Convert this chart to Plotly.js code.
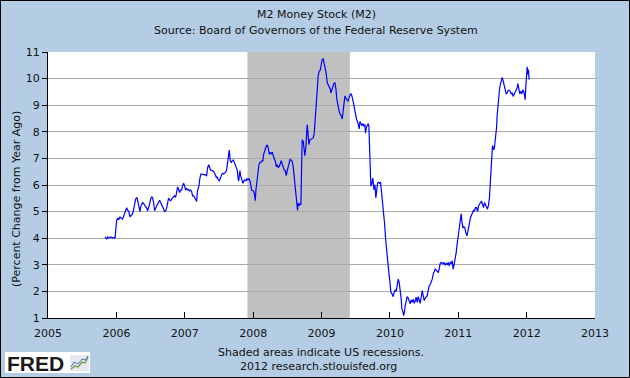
<!DOCTYPE html>
<html>
<head>
<meta charset="utf-8">
<script src="https://cdn.plot.ly/plotly-3.0.1.min.js"></script>
<style>
  html, body { margin: 0; padding: 0; background: #b4cde4; }
  #chart { width: 630px; height: 378px; }
</style>
</head>
<body>
<div id="chart"></div>
<script>
// ---- Data (decimal year, percent change from year ago) ----
const dates = [
2005.833,2005.858,2005.872,2005.892,2005.906,2005.926,2005.941,2005.965,2005.980,2005.989,
2006.004,2006.019,2006.038,2006.053,2006.067,2006.087,2006.101,2006.116,2006.136,2006.150,
2006.165,2006.179,2006.199,2006.218,2006.233,2006.248,2006.267,2006.282,2006.301,2006.316,
2006.330,2006.345,2006.355,2006.369,2006.384,2006.399,2006.413,2006.428,2006.443,2006.457,
2006.472,2006.486,2006.501,2006.516,2006.530,2006.545,2006.559,2006.574,2006.589,2006.603,
2006.618,2006.633,2006.647,2006.662,2006.676,2006.691,2006.706,2006.720,2006.735,2006.750,
2006.764,2006.779,2006.793,2006.808,2006.823,2006.837,2006.852,2006.866,2006.881,2006.896,
2006.910,2006.925,2006.940,2006.954,2006.969,2006.983,2006.998,2007.013,2007.027,2007.042,
2007.057,2007.071,2007.086,2007.100,2007.115,2007.130,2007.144,2007.159,2007.174,
2007.183,2007.198,2007.208,2007.222,2007.237,2007.256,2007.271,2007.295,2007.320,2007.334,
2007.349,2007.364,2007.378,2007.403,2007.422,2007.437,2007.451,2007.466,2007.476,2007.490,
2007.505,2007.520,2007.534,2007.549,2007.568,2007.583,2007.597,2007.612,2007.627,2007.641,
2007.651,2007.666,2007.680,2007.695,2007.710,2007.724,2007.739,2007.753,2007.768,2007.778,
2007.788,2007.797,2007.807,2007.817,2007.827,2007.836,2007.851,2007.865,2007.880,2007.895,
2007.909,2007.924,2007.939,2007.953,2007.968,2007.978,2007.992,2008.007,2008.021,2008.031,
2008.041,2008.056,2008.070,2008.085,2008.099,2008.114,2008.129,2008.143,2008.153,2008.168,
2008.182,2008.197,2008.207,2008.221,2008.236,2008.251,2008.265,2008.280,2008.294,2008.309,
2008.324,2008.338,2008.353,2008.367,2008.382,2008.397,2008.411,2008.426,2008.441,2008.455,
2008.470,2008.484,2008.499,2008.514,2008.528,2008.543,2008.558,2008.572,2008.587,2008.601,
2008.616,2008.631,2008.640,2008.650,
2008.655,2008.670,2008.684,2008.699,2008.709,2008.718,2008.733,2008.748,2008.757,2008.772,
2008.782,2008.791,2008.801,2008.816,2008.830,2008.845,2008.860,2008.879,2008.894,2008.904,
2008.913,2008.928,2008.938,2008.952,2008.967,2008.981,2008.996,2009.011,2009.025,2009.040,
2009.055,2009.069,2009.084,2009.098,2009.113,2009.128,2009.137,2009.152,2009.167,2009.181,
2009.196,2009.211,2009.225,2009.240,2009.250,2009.264,2009.279,2009.293,2009.303,2009.313,
2009.327,2009.342,2009.357,2009.371,2009.386,2009.401,2009.415,2009.430,2009.444,2009.459,
2009.469,2009.483,2009.498,2009.513,2009.527,2009.542,2009.552,2009.561,2009.576,2009.591,
2009.605,2009.620,2009.635,2009.644,2009.654,2009.669,2009.683,2009.693,2009.703,2009.712,
2009.722,2009.737,2009.751,2009.766,2009.781,2009.795,2009.805,2009.820,2009.834,2009.849,
2009.864,2009.878,2009.893,2009.907,2009.922,2009.937,2009.951,2009.966,2009.981,2009.995,
2010.010,
2010.015,2010.034,2010.049,2010.063,2010.078,2010.093,2010.107,2010.122,2010.136,2010.151,
2010.166,2010.175,2010.190,2010.200,2010.210,2010.224,2010.239,2010.253,2010.268,2010.283,
2010.297,2010.312,2010.327,2010.341,2010.356,2010.370,2010.385,2010.400,2010.414,2010.429,
2010.443,2010.458,2010.473,2010.487,2010.502,2010.517,2010.531,2010.546,2010.560,2010.575,
2010.590,2010.604,2010.619,2010.634,2010.648,2010.663,2010.677,2010.692,2010.707,2010.721,
2010.736,2010.751,2010.765,2010.780,2010.794,2010.809,2010.824,2010.838,2010.853,2010.867,
2010.882,2010.897,2010.911,2010.926,2010.941,2010.955,2010.970,2010.984,2010.999,2011.014,
2011.028,2011.043,2011.053,2011.067,2011.082,2011.096,2011.111,2011.126,2011.140,2011.155,
2011.170,
2011.179,2011.194,2011.209,2011.223,2011.238,2011.252,2011.267,2011.282,2011.296,2011.311,
2011.326,2011.340,2011.355,2011.369,2011.384,2011.399,2011.413,2011.428,2011.443,2011.457,
2011.467,2011.477,2011.482,2011.491,2011.501,2011.511,2011.520,2011.530,2011.540,2011.550,
2011.560,2011.569,2011.579,2011.589,2011.603,2011.613,2011.628,2011.642,2011.657,2011.672,
2011.686,2011.701,2011.715,2011.730,2011.745,2011.759,2011.774,2011.788,2011.803,2011.818,
2011.832,2011.847,2011.862,2011.871,2011.886,2011.901,2011.915,2011.930,2011.944,2011.959,
2011.969,2011.979,2011.988,2011.998,2012.008,2012.018,2012.027,2012.037
];

const m2Growth = [
4.05,3.96,4.05,4.00,4.03,4.05,4.00,4.03,4.00,4.33,
4.68,4.75,4.72,4.80,4.75,4.72,4.78,4.90,5.05,5.15,
5.05,5.03,4.80,4.84,4.90,5.03,5.34,5.47,5.53,5.34,
5.22,5.00,5.18,5.28,5.34,5.30,5.25,5.18,5.13,5.03,
5.13,5.28,5.47,5.56,5.51,5.34,5.03,5.18,5.22,5.28,
5.38,5.43,5.34,5.28,5.18,5.09,5.00,5.03,5.13,5.34,
5.51,5.43,5.41,5.47,5.53,5.56,5.59,5.53,5.72,5.93,
5.84,5.72,5.81,5.81,5.97,6.07,5.97,5.81,5.88,5.81,
5.83,5.78,5.81,5.76,5.59,5.59,5.53,5.47,5.38,
5.73,5.89,5.98,6.26,6.41,6.41,6.39,6.39,6.35,6.64,
6.76,6.66,6.56,6.54,6.51,6.44,6.35,6.26,6.31,6.19,
6.16,6.26,6.31,6.44,6.41,6.44,6.48,6.56,6.89,7.10,
7.31,6.91,6.85,6.91,6.94,6.85,6.73,6.64,6.56,6.31,
6.14,6.31,6.54,6.35,6.26,6.10,6.06,6.16,6.19,6.16,
6.23,6.19,6.23,6.16,5.98,5.81,5.79,5.76,5.64,5.41,
5.81,6.23,6.56,6.76,6.85,6.85,6.91,6.91,7.14,7.31,
7.39,7.48,7.51,7.39,7.16,7.23,7.16,7.23,7.06,6.98,
6.91,6.69,6.76,6.66,6.69,6.81,6.91,6.79,6.66,6.56,
6.54,6.35,6.54,6.73,6.81,6.98,6.91,6.89,6.66,6.26,
5.98,5.60,5.23,5.04,
5.32,5.22,5.29,5.26,6.70,7.70,7.64,7.35,7.10,7.45,
8.02,8.27,7.98,7.52,7.70,7.73,7.73,7.77,7.95,8.33,
8.93,9.21,9.69,10.11,10.28,10.31,10.53,10.72,10.74,10.56,
10.31,10.19,9.84,9.77,9.71,9.61,9.46,9.61,9.71,9.81,
9.84,9.61,9.21,9.02,8.77,8.71,8.64,8.58,8.48,8.77,
9.15,9.34,9.27,9.21,9.15,9.27,9.34,9.44,9.36,9.23,
9.06,8.86,8.64,8.46,8.39,8.23,8.11,8.39,8.33,8.23,
8.31,8.21,8.27,7.95,8.14,8.23,8.31,8.21,7.08,6.57,
5.95,6.07,6.26,5.82,6.01,5.51,5.76,6.07,6.10,6.07,
6.10,5.76,5.45,5.01,4.57,4.00,3.50,3.06,2.81,2.50,
2.12,
1.96,1.90,1.80,1.96,2.05,2.00,2.21,2.46,2.34,2.09,
1.71,1.34,1.25,1.09,1.18,1.46,1.65,1.80,1.75,1.63,
1.53,1.68,1.59,1.71,1.55,1.63,1.78,1.59,1.80,1.68,
1.55,1.78,2.03,1.84,1.65,1.75,1.78,1.84,2.03,2.21,
2.25,2.34,2.46,2.65,2.78,2.84,2.80,2.75,2.71,2.84,
3.05,3.09,3.05,3.03,3.09,3.00,3.05,3.00,3.09,2.96,
3.09,3.05,3.15,2.84,3.03,3.21,3.46,3.78,4.09,4.40,
4.71,4.93,4.65,4.40,4.43,4.40,4.21,4.09,4.25,4.40,
4.65,
4.77,4.87,4.96,5.05,5.03,5.15,5.15,5.00,5.21,5.30,
5.34,5.40,5.25,5.15,5.34,5.25,5.15,5.09,5.25,5.53,
6.03,6.54,7.02,7.23,7.48,7.42,7.32,7.42,7.64,7.86,
8.15,8.61,9.03,9.43,9.58,9.75,9.91,10.04,9.91,9.71,
9.53,9.43,9.46,9.56,9.56,9.53,9.43,9.46,9.33,9.43,
9.50,9.58,9.66,9.81,9.58,9.43,9.53,9.43,9.58,9.50,
9.37,9.21,9.69,10.06,10.44,10.16,10.34,9.96
];

const recessionStart = [2007.917];
const recessionEnd = [2009.415];
const xTickVals = [2005, 2006, 2007, 2008, 2009, 2010, 2011, 2012, 2013];
const yTickVals = [1, 2, 3, 4, 5, 6, 7, 8, 9, 10, 11];

const titleText = "M2 Money Stock (M2)";
const subtitleText = "Source: Board of Governors of the Federal Reserve System";
const yTitleText = "(Percent Change from Year Ago)";
const noteText = "Shaded areas indicate US recessions.";
const creditText = "2012 research.stlouisfed.org";

// ---- Layout helpers (pixel -> paper) ----
const W = 630, H = 378, L = 48, R = 35, T = 52, B = 60;
const PW = W - L - R, PH = H - T - B;
const px = v => (v - L) / PW;
const py = v => (H - B - v) / PH;

const FONT = "DejaVu Sans";
const txt = { family: FONT, size: 11, color: "#111" };

const shapes = recessionStart.map((s, i) => ({
  type: "rect", xref: "x", yref: "paper", x0: s, x1: recessionEnd[i], y0: 0, y1: 1,
  fillcolor: "#c0c0c0", line: { width: 0 }, layer: "between"
}));
// FRED logo box and icon
shapes.push({ type: "rect", xref: "paper", yref: "paper", x0: px(5), x1: px(90), y0: py(373), y1: py(352),
  fillcolor: "#ffffff", line: { width: 0 }, layer: "above" });
shapes.push({ type: "rect", xref: "paper", yref: "paper", x0: px(70), x1: px(89), y0: py(371), y1: py(355),
  fillcolor: "#e4e9ef", line: { width: 0 }, layer: "above" });
shapes.push({ type: "path", xref: "paper", yref: "paper",
  path: `M ${px(71)} ${py(369)} L ${px(75)} ${py(366)} L ${px(78)} ${py(367)} L ${px(82)} ${py(362)} L ${px(85)} ${py(363)} L ${px(88)} ${py(357)}`,
  line: { color: "#6a9a3a", width: 1.3 }, layer: "above" });
shapes.push({ type: "path", xref: "paper", yref: "paper",
  path: `M ${px(71)} ${py(367)} L ${px(74)} ${py(362)} L ${px(78)} ${py(364)} L ${px(82)} ${py(359)} L ${px(85)} ${py(360)} L ${px(88)} ${py(356)}`,
  line: { color: "#5577bb", width: 1 }, layer: "above" });
// outer border
shapes.push({ type: "rect", xref: "paper", yref: "paper", x0: px(0.5), x1: px(629.5), y0: py(377.5), y1: py(0.5),
  line: { color: "#000", width: 1 }, fillcolor: "rgba(0,0,0,0)", layer: "above" });

const annotations = [
  { text: titleText, x: px(316), y: py(14), xanchor: "center", yanchor: "middle" },
  { text: subtitleText, x: px(316), y: py(30), xanchor: "center", yanchor: "middle" },
  { text: yTitleText, x: px(17), y: py(199), xanchor: "center", yanchor: "middle", textangle: -90 },
  { text: noteText, x: px(321), y: py(352), xanchor: "center", yanchor: "middle" },
  { text: creditText, x: px(318), y: py(366), xanchor: "center", yanchor: "middle" },
].map(a => Object.assign({ xref: "paper", yref: "paper", showarrow: false, font: txt }, a));
annotations.push({ xref: "paper", yref: "paper", showarrow: false, text: "<b>FRED</b>",
  x: px(5), y: py(363), xanchor: "left", yanchor: "middle",
  font: { family: "Liberation Sans", size: 21, color: "#1a1a1a" } });

const trace = {
  x: dates, y: m2Growth, type: "scatter", mode: "lines",
  line: { color: "#0000ff", width: 1.2 }, hoverinfo: "skip"
};

const layout = {
  width: W, height: H,
  margin: { l: L, r: R, t: T, b: B, pad: 0 },
  paper_bgcolor: "#b4cde4", plot_bgcolor: "#ffffff",
  showlegend: false,
  font: txt,
  xaxis: {
    range: [2005, 2013], tickvals: xTickVals, ticktext: xTickVals.map(String),
    ticks: "inside", ticklen: 6, tickcolor: "#000", tickwidth: 1,
    showline: true, linecolor: "#000", linewidth: 1, showgrid: false, zeroline: false,
    tickfont: txt, ticklabelstandoff: 5, fixedrange: true
  },
  yaxis: {
    range: [1, 11], tickvals: yTickVals, ticktext: yTickVals.map(String),
    ticks: "outside", ticklen: 5, tickcolor: "#000", tickwidth: 1,
    showline: true, linecolor: "#000", linewidth: 1,
    showgrid: true, gridcolor: "#aaaaaa", gridwidth: 1, zeroline: false,
    tickfont: txt, fixedrange: true
  },
  shapes: shapes,
  annotations: annotations
};

Plotly.newPlot("chart", [trace], layout, { staticPlot: true, displayModeBar: false });
</script>
</body>
</html>
